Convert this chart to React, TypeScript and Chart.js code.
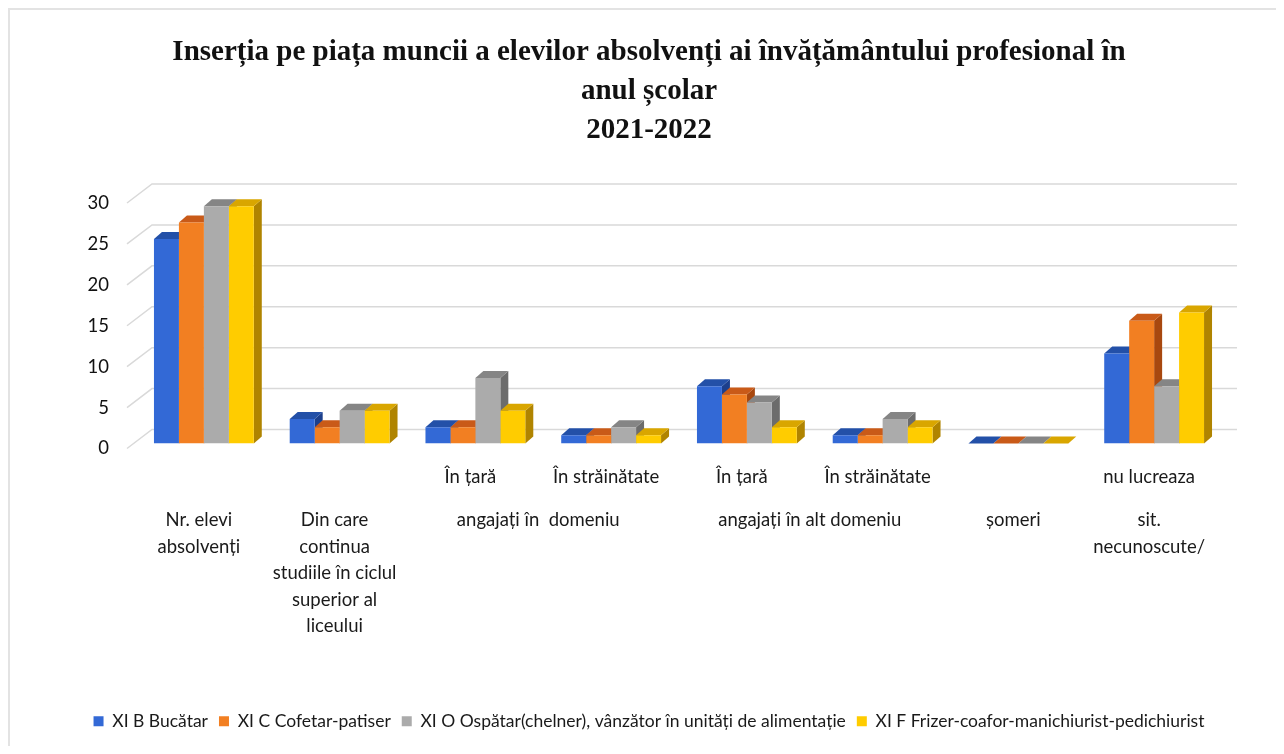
import React, { useEffect, useRef } from "react";
import { Chart, registerables } from "chart.js";

Chart.register(...registerables);

const titleLines = [
  "Inserția pe piața muncii a elevilor absolvenți ai învățământului profesional în",
  "anul școlar",
  "2021-2022",
];

// first row of the category axis (one per category)
const categories = ["", "", "În țară", "În străinătate", "În țară", "În străinătate", "", "nu lucreaza"];

// second row (group) labels with the category span they cover
const groupLabels: { lines: string[]; from: number; to: number }[] = [
  { lines: ["Nr. elevi", "absolvenți"], from: 0, to: 0 },
  { lines: ["Din care", "continua", "studiile în ciclul", "superior al", "liceului"], from: 1, to: 1 },
  { lines: ["angajați în  domeniu"], from: 2, to: 3 },
  { lines: ["angajați în alt domeniu"], from: 4, to: 5 },
  { lines: ["șomeri"], from: 6, to: 6 },
  { lines: ["sit.", "necunoscute/"], from: 7, to: 7 },
];

const seriesNames = [
  "XI B Bucătar",
  "XI C Cofetar-patiser",
  "XI O Ospătar(chelner), vânzător în unități de alimentație",
  "XI F Frizer-coafor-manichiurist-pedichiurist",
];

const bucatar = [25, 3, 2, 1, 7, 1, 0, 11];
const cofetar = [27, 2, 2, 1, 6, 1, 0, 15];
const ospatar = [29, 4, 8, 2, 5, 3, 0, 7];
const frizer = [29, 4, 4, 1, 2, 2, 0, 16];

const yTicks = [0, 5, 10, 15, 20, 25, 30];

const frontColors = ["#3369d6", "#f27f22", "#ababab", "#ffcc00"];
const topColors = ["#2350a8", "#c95a18", "#858585", "#d9a600"];
const sideColors = ["#1c3f8c", "#a8480f", "#6c6c6c", "#b08400"];

const DEPTH_X = 8;
const DEPTH_Y = 7;

const threeDPlugin = {
  id: "threeD",
  beforeDatasetsDraw(chart: any) {
    const ctx = chart.ctx;
    const area = chart.chartArea;
    const yScale = chart.scales.y;
    ctx.save();
    ctx.strokeStyle = "#d9d9d9";
    ctx.lineWidth = 1.5;
    yTicks.forEach((v) => {
      const y = yScale.getPixelForValue(v);
      ctx.beginPath();
      ctx.moveTo(area.left - 9, y + 5);
      ctx.lineTo(area.left + 16, y - 14);
      ctx.lineTo(area.right + 15, y - 14);
      ctx.stroke();
    });
    const n = chart.data.labels.length;
    for (let i = 0; i < n; i++) {
      chart.data.datasets.forEach((_: any, d: number) => {
        const el = chart.getDatasetMeta(d).data[i];
        if (!el) return;
        const { x, y, base, width } = el.getProps(["x", "y", "base", "width"], true);
        const l = x - width / 2;
        const r = x + width / 2;
        ctx.fillStyle = sideColors[d];
        ctx.beginPath();
        ctx.moveTo(r, y);
        ctx.lineTo(r + DEPTH_X, y - DEPTH_Y);
        ctx.lineTo(r + DEPTH_X, base - DEPTH_Y);
        ctx.lineTo(r, base);
        ctx.closePath();
        ctx.fill();
        ctx.fillStyle = topColors[d];
        ctx.beginPath();
        ctx.moveTo(l, y);
        ctx.lineTo(r, y);
        ctx.lineTo(r + DEPTH_X, y - DEPTH_Y);
        ctx.lineTo(l + DEPTH_X, y - DEPTH_Y);
        ctx.closePath();
        ctx.fill();
      });
    }
    ctx.restore();
  },
};

const categoryLabelPlugin = {
  id: "categoryLabels",
  afterDraw(chart: any) {
    const ctx = chart.ctx;
    const area = chart.chartArea;
    const xs = chart.scales.x;
    ctx.save();
    ctx.font = "18.5px Lato";
    ctx.fillStyle = "#1a1a1a";
    ctx.textAlign = "center";
    ctx.textBaseline = "middle";
    categories.forEach((c, i) => {
      if (!c) return;
      ctx.fillText(c, xs.getPixelForValue(i) - 5, area.bottom + 34);
    });
    groupLabels.forEach((g) => {
      const cx = (xs.getPixelForValue(g.from) + xs.getPixelForValue(g.to)) / 2 - 5;
      g.lines.forEach((t, k) => {
        ctx.fillText(t, cx, area.bottom + 77 + k * 26.5);
      });
    });
    ctx.restore();
  },
};

export default function App() {
  const ref = useRef<HTMLCanvasElement | null>(null);
  useEffect(() => {
    if (!ref.current) return;
    const datasets = [bucatar, cofetar, ospatar, frizer].map((data, i) => ({
      label: seriesNames[i],
      data,
      backgroundColor: frontColors[i],
      borderWidth: 0,
      categoryPercentage: 100 / 136,
      barPercentage: 1,
    }));
    const chart = new Chart(ref.current, {
      type: "bar",
      data: { labels: categories, datasets },
      plugins: [threeDPlugin, categoryLabelPlugin],
      options: {
        animation: false,
        responsive: true,
        maintainAspectRatio: false,
        layout: { padding: { left: 66, right: 54, top: 0, bottom: 6 } },
        plugins: {
          title: {
            display: true,
            text: titleLines,
            color: "#111111",
            font: { family: "Liberation Serif", size: 29, weight: "bold", lineHeight: "39px" },
            padding: { top: 23, bottom: 48 },
          },
          legend: {
            position: "bottom",
            labels: {
              boxWidth: 10,
              boxHeight: 10,
              color: "#1a1a1a",
              font: { family: "Lato", size: 17.5 },
              padding: 11,
            },
          },
          tooltip: { enabled: false },
        },
        scales: {
          x: {
            type: "category",
            grid: { display: false },
            border: { display: false },
            ticks: { display: false },
            afterFit: (s: any) => {
              s.height = 258;
            },
          },
          y: {
            min: 0,
            max: 30,
            grid: { display: false, drawTicks: false },
            border: { display: false },
            ticks: {
              stepSize: 5,
              padding: 27,
              labelOffset: 5,
              color: "#111111",
              font: { family: "Lato", size: 18.5 },
            },
            afterFit: (s: any) => {
              s.width = 60;
            },
          },
        },
      },
    });
    return () => chart.destroy();
  }, []);
  return (
    <div
      style={{
        width: 1268,
        height: 738,
        boxSizing: "border-box",
        borderTop: "2px solid #e3e3e3",
        borderLeft: "2px solid #e3e3e3",
        position: "relative",
      }}
    >
      <canvas ref={ref} />
    </div>
  );
}
